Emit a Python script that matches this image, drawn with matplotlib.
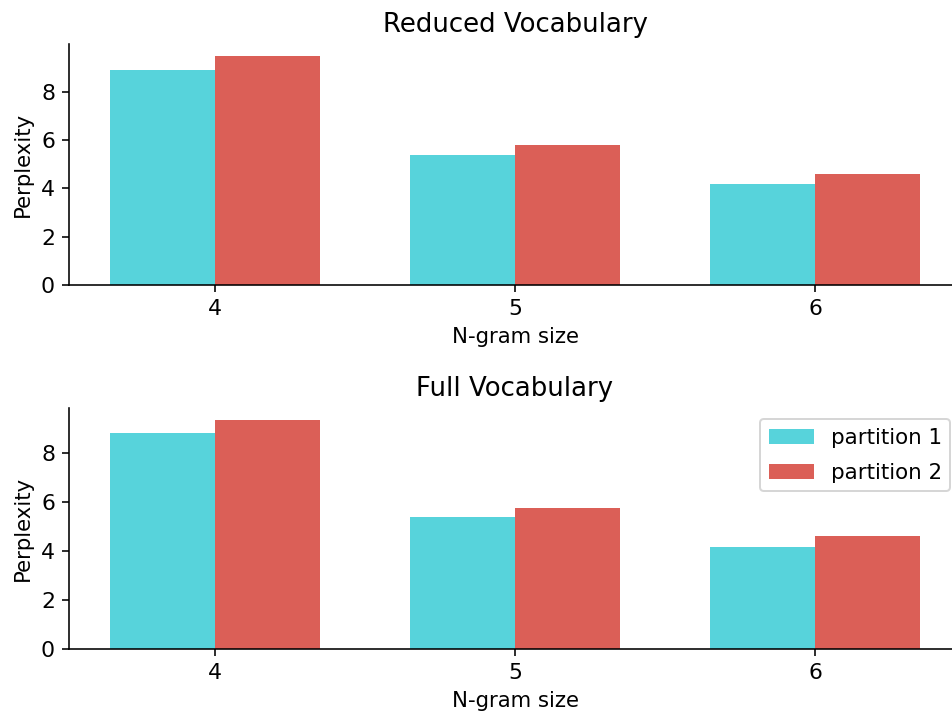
import numpy as np
import matplotlib.pyplot as plt

# data
ngram = [4, 5, 6]
reduced_p1 = [8.92, 5.38, 4.20]
reduced_p2 = [9.50, 5.81, 4.60]
full_p1 = [8.81, 5.37, 4.17]
full_p2 = [9.36, 5.76, 4.60]

titles = ["Reduced Vocabulary", "Full Vocabulary"]
series = [(reduced_p1, reduced_p2), (full_p1, full_p2)]

C1 = "#57d3db"
C2 = "#db5f57"
W = 0.35

plt.rcParams["xtick.labelsize"] = 11
plt.rcParams["ytick.labelsize"] = 11
plt.rcParams["axes.labelsize"] = 10.6
plt.rcParams["legend.fontsize"] = 10.7

fig = plt.figure(figsize=(952 / 144, 715 / 144), dpi=144)
boxes = [[0.0725, 0.6014, 0.937, 0.337], [0.0725, 0.0923, 0.937, 0.337]]

x = np.array(ngram, dtype=float)
for i, (box, title, (p1, p2)) in enumerate(zip(boxes, titles, series)):
    ax = fig.add_axes(box)
    ax.bar(x - W / 2, p1, W, color=C1, label="partition 1")
    ax.bar(x + W / 2, p2, W, color=C2, label="partition 2")
    ax.set_xticks(x)
    ax.set_xticklabels([str(n) for n in ngram])
    ax.set_yticks([0, 2, 4, 6, 8])
    ax.set_title(title, fontsize=13)
    ax.set_xlabel("N-gram size")
    ax.set_ylabel("Perplexity")
    ax.spines["top"].set_visible(False)
    ax.spines["right"].set_visible(False)
    if i == 1:
        ax.legend(loc="upper right", bbox_to_anchor=(1.0, 0.999),
                  labelspacing=0.7, handlelength=2.1)

fig.savefig("out.png", dpi=144)
